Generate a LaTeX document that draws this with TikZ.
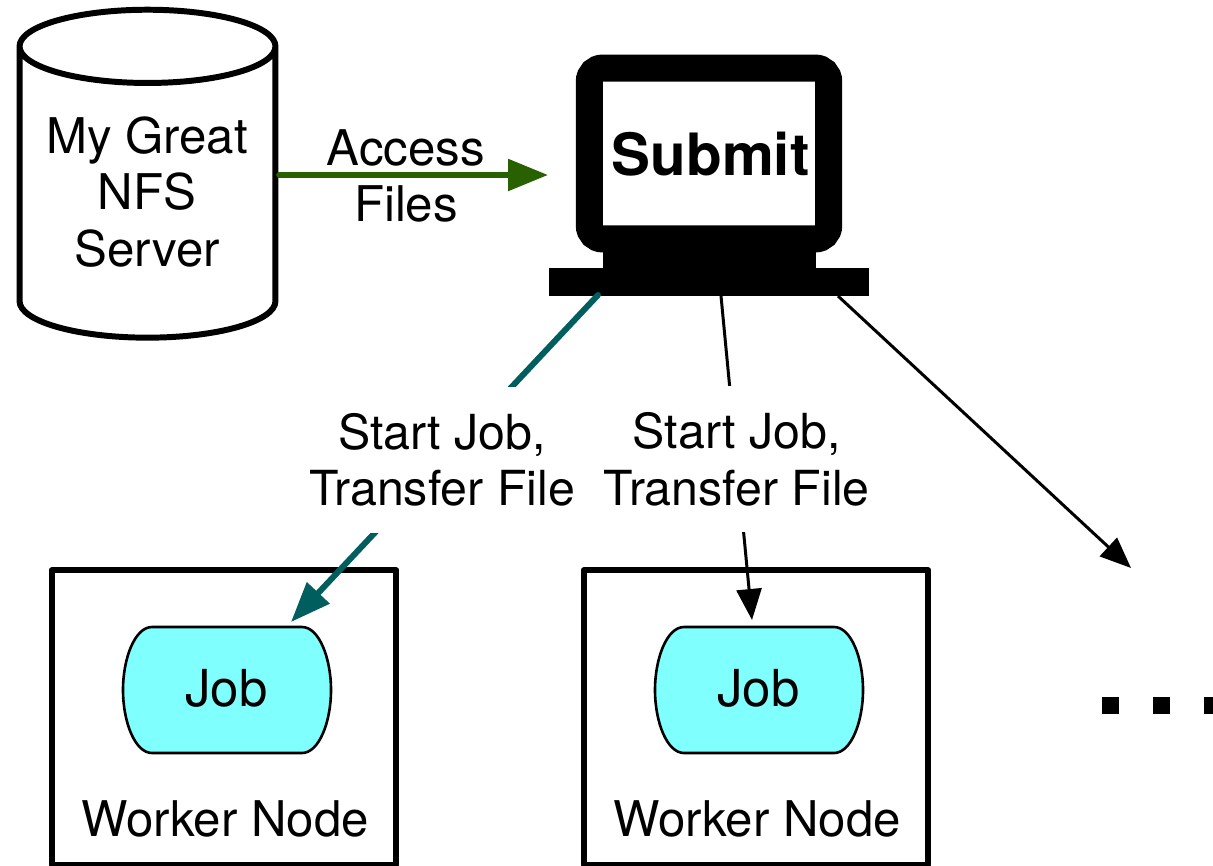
\documentclass[tikz,border=0pt]{standalone}
\usepackage{fontspec}
\setmainfont{TeX Gyre Heros}
\usetikzlibrary{arrows.meta}
\usetikzlibrary{shapes.geometric}
\definecolor{accessgreen}{RGB}{41,96,0}
\definecolor{startteal}{RGB}{0,94,94}
\definecolor{jobcyan}{RGB}{128,255,255}
\tikzset{
  jobshape/.pic={
    \draw[line width=2.6pt*0.569,fill=jobcyan] (-75,-63) -- (75,-63)
      .. controls (92,-63) and (104,-32) .. (104,0)
      .. controls (104,32) and (92,63) .. (75,63) -- (-75,63)
      .. controls (-92,63) and (-104,32) .. (-104,0)
      .. controls (-104,-32) and (-92,-63) .. (-75,-63) -- cycle;
  }
}
\begin{document}
\begin{tikzpicture}[x=0.02cm,y=-0.02cm,inner sep=0pt,outer sep=0pt,
textlabel/.style={font=\fontsize{28}{32}\selectfont,align=center},
startlabel/.style={font=\fontsize{27.5}{32.2}\selectfont,align=center,fill=white,minimum width=5.3cm,minimum height=2.92cm},
workerbox/.style={draw,rectangle,line width=3.4pt,line join=round,minimum width=6.9cm,minimum height=5.89cm},
dotbox/.style={fill=black,rectangle,minimum size=0.34cm},
blackbox/.style={fill=black,rectangle},
greenline/.style={draw=accessgreen,line width=3.2pt,line cap=round,-{Triangle[length=0.8cm,width=0.62cm]}},
tealline/.style={draw=startteal,line width=3.4pt,line cap=round,-{Triangle[length=0.8cm,width=0.6cm]}},
thinline/.style={line width=1.7pt,-{Triangle[length=0.62cm,width=0.5cm]}}]
\useasboundingbox (0,0) rectangle (1213,865);
% server and submit host
\node[draw,cylinder,shape border rotate=90,aspect=0.37,line width=3.4pt,minimum width=5.12cm,minimum height=6.56cm] (nfs) at (147.5,193.5) {\phantom{\rule{3.96cm}{3.4cm}}};
\node[textlabel] (nfstext) at (147,192) {My Great\\NFS\\Server};
\node[blackbox,minimum width=4.26cm,minimum height=0.6cm] (neck) at (709.5,258) {};
\node[blackbox,minimum width=6.4cm,minimum height=0.56cm] (base) at (709,282) {};
\node[draw,rectangle,fill=white,line width=0.54cm,rounded corners=0.27cm,minimum width=4.79cm,minimum height=3.42cm,font=\fontsize{33.2}{38}\selectfont\bfseries,text depth=0pt] (submit) at (709,153.5) {\hspace{2pt}Submit};
% worker nodes
\node[workerbox] (worker1) at (224,717.5) {};
\node[workerbox] (worker2) at (756,717.5) {};
\pic at (227,690) {jobshape};
\pic at (759,690) {jobshape};
\node[font=\fontsize{29}{32}\selectfont] (job1) at (226.5,688.5) {Job};
\node[font=\fontsize{29}{32}\selectfont] (job2) at (758.5,688.5) {Job};
\node[textlabel] (name1) at (225,818.5) {Worker Node};
\node[textlabel] (name2) at (757,818.5) {Worker Node};
\foreach \i/\x in {1/1110.5,2/1161.5,3/1212.5}
  \node[dotbox] (dot\i) at (\x,705.5) {};
% free ends of the connectors
\coordinate (accessstart) at (279,175);
\coordinate (accessend) at (548,175);
\coordinate (tealstart) at (598,295);
\coordinate (tealend) at (291,622);
\coordinate (midstart) at (721,296);
\coordinate (midend) at (752,620);
\coordinate (rightstart) at (838,296);
\coordinate (rightend) at (1131,568);
\draw[greenline] (accessstart) -- (accessend);
\node[textlabel] (access) at (406,176) {Access\\Files};
\draw[tealline] (tealstart) -- node[startlabel,pos=.508,yshift=0.03cm] (label1) {Start Job,\\Transfer File} (tealend);
\draw[thinline] (midstart) -- node[startlabel,pos=.509,yshift=0.03cm] (label2) {Start Job,\\Transfer File} (midend);
\draw[thinline] (rightstart) -- (rightend);
\end{tikzpicture}
\end{document}
